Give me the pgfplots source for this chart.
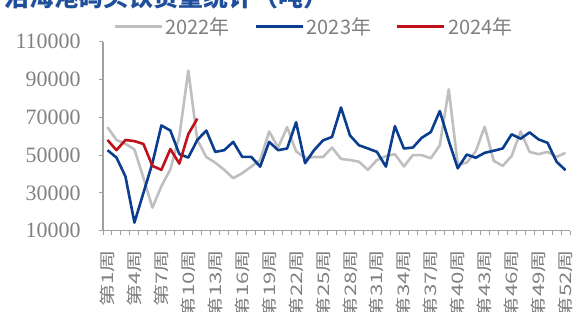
\documentclass[border=0pt]{standalone}
\usepackage{fontspec}
\usepackage{pgfplots}
\pgfplotsset{compat=1.18}
\setmainfont{Liberation Serif}
\newfontfamily\cjk{Noto Sans CJK SC}
\newfontfamily\cjkx[FakeStretch=1.4]{Noto Sans CJK SC}
\definecolor{c22}{HTML}{BFBFBF}
\definecolor{c23}{HTML}{0B3D8F}
\definecolor{c24}{HTML}{C0101A}
\definecolor{axgray}{HTML}{A0A0A0}
\definecolor{txtgray}{HTML}{808080}
\definecolor{titleblue}{HTML}{1F4E9A}
\begin{document}
\begin{tikzpicture}[x=1bp,y=1bp]
\useasboundingbox (0,0) rectangle (578,311);
\node[anchor=base west, font=\cjk\bfseries\fontsize{25}{25}\selectfont, text=titleblue, inner sep=0pt] at (4,305) {沿海港码头铁货量统计（吨）};
\begin{axis}[
  at={(103bp,80.3bp)}, anchor=south west, scale only axis,
  width=467bp, height=189bp,
  xmin=0.5, xmax=52.5, ymin=10000, ymax=110000,
  scaled y ticks=false,
  ytick={10000,30000,50000,70000,90000,110000},
  yticklabels={10000,30000,50000,70000,90000,110000},
  xtick={1,4,7,10,13,16,19,22,25,28,31,34,37,40,43,46,49,52},
  xticklabels={第1周,第4周,第7周,第10周,第13周,第16周,第19周,第22周,第25周,第28周,第31周,第34周,第37周,第40周,第43周,第46周,第49周,第52周},
  minor xtick={0.5,1.5,...,52.5},
  axis x line*=bottom, axis y line*=left,
  axis line style={axgray, line width=1.2bp, -},
  tick align=outside, major tick length=4bp, minor tick length=4bp,
  every tick/.style={axgray, line width=1bp},
  major x tick style={draw=none},
  xticklabel shift=14bp,
  yticklabel shift=15bp,
  xticklabel style={rotate=90, anchor=east, font=\cjkx\fontsize{16}{16}\selectfont, text=txtgray, inner sep=1bp},
  yticklabel style={font=\fontsize{22}{22}\selectfont, text=txtgray},
  legend style={at={(0.0214,1.0778)}, anchor=west, draw=none, fill=none, inner sep=0pt,
    legend columns=3, font=\cjk\fontsize{20}{20}\selectfont, text=txtgray,
    nodes={inner sep=2.5bp},
    /tikz/every even column/.append style={column sep=22bp}},
  legend image code/.code={\draw[#1, line width=3bp] (0bp,0bp) -- (47bp,0bp);},
  every axis plot/.append style={line width=2.6bp, line join=round, mark=none},
]
\addplot[c22] coordinates {
(1,64800)(2,58000)(3,56000)(4,53000)(5,38000)(6,22200)(7,33500)(8,42500)(9,60000)(10,94700)
(11,58000)(12,49000)(13,46000)(14,42200)(15,37800)(16,40400)(17,43900)(18,47400)(19,62500)(20,54000)
(21,64800)(22,52000)(23,48500)(24,49000)(25,49000)(26,54000)(27,48000)(28,47400)(29,46500)(30,42200)
(31,47400)(32,49500)(33,50500)(34,44000)(35,50000)(36,50000)(37,48300)(38,55200)(39,84800)(40,45000)
(41,46000)(42,52000)(43,65000)(44,47000)(45,44300)(46,49500)(47,62500)(48,51700)(49,50500)(50,51700)
(51,49000)(52,51200)};
\addlegendentry{2022年}
\addplot[c23] coordinates {
(1,52600)(2,48700)(3,38700)(4,14300)(5,30000)(6,45700)(7,65700)(8,63000)(9,50500)(10,48700)
(11,58000)(12,63000)(13,51700)(14,52600)(15,57000)(16,49100)(17,49100)(18,43900)(19,57000)(20,52600)
(21,53500)(22,67400)(23,45700)(24,52600)(25,57800)(26,59600)(27,75200)(28,60400)(29,55200)(30,53500)
(31,51700)(32,43900)(33,65300)(34,53500)(35,54000)(36,59200)(37,62200)(38,73300)(39,57500)(40,43000)
(41,50300)(42,48600)(43,51200)(44,52300)(45,53500)(46,61000)(47,58700)(48,62000)(49,58300)(50,56500)
(51,46500)(52,42000)};
\addlegendentry{2023年}
\addplot[c24] coordinates {
(1,58000)(2,52600)(3,58000)(4,57400)(5,55900)(6,44300)(7,42200)(8,53200)(9,45500)(10,61100)(11,69300)};
\addlegendentry{2024年}
\end{axis}
\end{tikzpicture}
\end{document}
